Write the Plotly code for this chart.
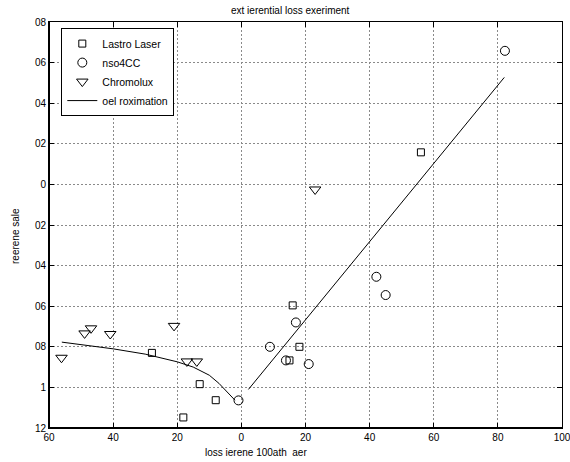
import plotly.graph_objects as go

# ---- data ----
lastro_x = [-27.9, -13.0, -8.0, -18.1, 16.0, 18.1, 15.0, 56.0]
lastro_y = [-0.83, -0.984, -1.063, -1.148, -0.596, -0.80, -0.867, 0.158]

nso_x = [-0.9, 8.9, 13.9, 17.0, 21.0, 42.1, 45.0, 82.2]
nso_y = [-1.064, -0.80, -0.867, -0.68, -0.885, -0.455, -0.545, 0.658]

chromo_x = [-56.1, -48.9, -46.9, -40.9, -21.0, -17.0, -13.9, 23.0]
chromo_y = [-0.854, -0.734, -0.709, -0.737, -0.697, -0.872, -0.872, -0.025]

# approximation: two branches separated by None
approx_x = [-56, -50, -40, -30, -20, -15, -10, -7, -5, -3.5, -2, None, 2.2, 82.0]
approx_y = [-0.777, -0.79, -0.81, -0.836, -0.874, -0.90, -0.94, -0.98, -1.015, -1.04, -1.063,
            None, -1.01, 0.527]

x_ticks = [-60, -40, -20, 0, 20, 40, 60, 80, 100]
x_ticktext = ["60", "40", "20", "0", "20", "40", "60", "80", "100"]
y_ticks = [-1.2, -1.0, -0.8, -0.6, -0.4, -0.2, 0, 0.2, 0.4, 0.6, 0.8]
y_ticktext = ["12", "1", "08", "06", "04", "02", "0", "02", "04", "06", "08"]

title_text = "ext ierential loss exeriment"
xlabel_text = "loss ierene 100ath  aer"
ylabel_text = "reerene sale"

FONT = "Liberation Sans, Arial, Helvetica, sans-serif"

fig = go.Figure()
fig.add_trace(go.Scatter(x=lastro_x, y=lastro_y, mode="markers", name="Lastro Laser",
                         marker=dict(symbol="square-open", size=7, color="black",
                                     line=dict(width=1, color="black"))))
fig.add_trace(go.Scatter(x=nso_x, y=nso_y, mode="markers", name="nso4CC",
                         marker=dict(symbol="circle-open", size=9, color="black",
                                     line=dict(width=1, color="black"))))
fig.add_trace(go.Scatter(x=chromo_x, y=chromo_y, mode="markers", name="Chromolux",
                         marker=dict(symbol="triangle-down-open", size=10, color="black",
                                     line=dict(width=1, color="black"))))
fig.add_trace(go.Scatter(x=approx_x, y=approx_y, mode="lines", name="oel roximation",
                         line=dict(color="black", width=1), connectgaps=False))

axis_common = dict(
    showline=True, linecolor="black", linewidth=1, mirror="ticks",
    ticks="inside", ticklen=5, tickcolor="black", tickwidth=1,
    showgrid=True, gridcolor="#8a8a8a", griddash="1.5px,2.5px", gridwidth=1,
    zeroline=False, tickfont=dict(family=FONT, size=10, color="black"),
    ticklabeloverflow="allow", automargin=False,
)

fig.update_layout(
    width=570, height=462,
    margin=dict(l=49, r=8, t=22, b=34),
    paper_bgcolor="white", plot_bgcolor="white",
    font=dict(family=FONT, size=10, color="black"),
    showlegend=True,
    legend=dict(x=0.024, y=0.985, xanchor="left", yanchor="top",
                bordercolor="black", borderwidth=1, bgcolor="white",
                font=dict(family=FONT, size=10.5), tracegroupgap=0,
                itemwidth=30, entrywidth=110, entrywidthmode="pixels"),
    xaxis=dict(range=[-60, 100], tickvals=x_ticks, ticktext=x_ticktext, **axis_common),
    yaxis=dict(range=[-1.2, 0.8], tickvals=y_ticks, ticktext=y_ticktext, **axis_common),
    shapes=[
        dict(type="line", xref="paper", yref="paper", x0=0, x1=0, y0=0, y1=1,
             line=dict(color="black", width=2), layer="above"),
        dict(type="line", xref="paper", yref="paper", x0=0, x1=1, y0=0, y1=0,
             line=dict(color="black", width=2), layer="above"),
    ],
    annotations=[
        dict(text=title_text, xref="paper", yref="paper", x=(290 - 49) / 513, y=1,
             yshift=12, xanchor="center", yanchor="middle", showarrow=False,
             font=dict(family=FONT, size=10)),
        dict(text=xlabel_text, xref="paper", yref="paper", x=(256 - 49) / 513, y=0,
             yshift=-24, xanchor="center", yanchor="middle", showarrow=False,
             font=dict(family=FONT, size=10)),
        dict(text=ylabel_text, xref="paper", yref="paper", x=0, xshift=-34,
             y=(428 - 236) / 406, yanchor="middle", xanchor="center", textangle=-90,
             showarrow=False, font=dict(family=FONT, size=10)),
    ],
)

fig.write_html("out.html")
